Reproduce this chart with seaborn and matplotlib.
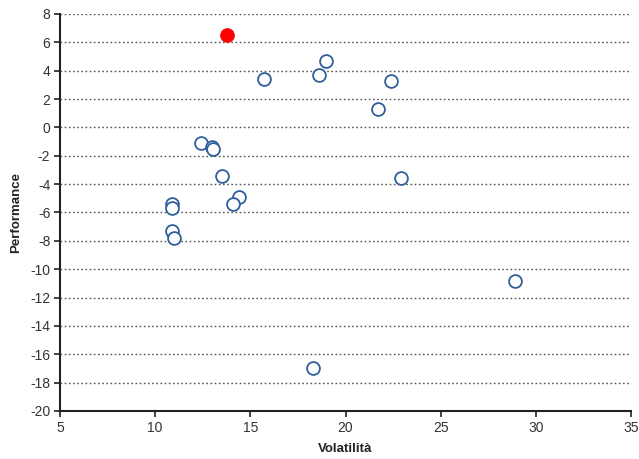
import matplotlib
matplotlib.use("Agg")
import matplotlib.pyplot as plt
import seaborn as sns
import pandas as pd

# Data (volatility %, performance %)
volatility = [15.7, 18.6, 19.0, 22.4, 21.7, 22.9, 28.9, 18.3, 12.4, 13.0, 13.05,
              13.5, 14.4, 14.1, 10.9, 10.9, 10.9, 11.0]
performance = [3.4, 3.7, 4.7, 3.3, 1.3, -3.6, -10.8, -17.0, -1.1, -1.4, -1.55,
               -3.4, -4.9, -5.4, -5.4, -5.7, -7.3, -7.8]
highlight_vol = [13.8]
highlight_perf = [6.5]

x_ticks = [5, 10, 15, 20, 25, 30, 35]
y_ticks = list(range(-20, 9, 2))

df = pd.DataFrame({"Volatilità": volatility, "Performance": performance})
dh = pd.DataFrame({"Volatilità": highlight_vol, "Performance": highlight_perf})

sns.set_style("white")
plt.rcParams["font.family"] = ["Liberation Sans", "DejaVu Sans"]

fig = plt.figure(figsize=(6.39, 4.59), dpi=100)
ax = fig.add_axes([0.0939, 0.1046, 0.8936, 0.8649])

for y in y_ticks:
    if y > -20:
        ax.axhline(y, color="#555555", linestyle=(0, (1.2, 1.8)), linewidth=1.0, zorder=0)

sns.scatterplot(data=df, x="Volatilità", y="Performance", ax=ax,
                s=85, facecolor="white", edgecolor="#2f5f9b", linewidth=1.3, zorder=3)
sns.scatterplot(data=dh, x="Volatilità", y="Performance", ax=ax,
                s=100, color="#ff0000", edgecolor="#ff0000", linewidth=0.5, zorder=4)

ax.set_xlim(5, 35)
ax.set_ylim(-20, 8)
ax.set_xticks(x_ticks)
ax.set_yticks(y_ticks)
ax.set_xticklabels([str(v) for v in x_ticks])
ax.set_yticklabels([str(v) for v in y_ticks])

for s in ["top", "right"]:
    ax.spines[s].set_visible(False)
for s in ["left", "bottom"]:
    ax.spines[s].set_color("#222222")
    ax.spines[s].set_linewidth(1.5)

ax.tick_params(axis="both", which="both", direction="out", length=4, width=1.2,
               color="#222222", labelsize=10, labelcolor="#333333",
               left=True, bottom=True, pad=3)

ax.set_xlabel("Volatilità", fontsize=9.5, fontweight="bold", color="#222222", labelpad=6)
ax.set_ylabel("Performance", fontsize=9.5, fontweight="bold", color="#222222", labelpad=6)

fig.savefig("out.png", dpi=100)
